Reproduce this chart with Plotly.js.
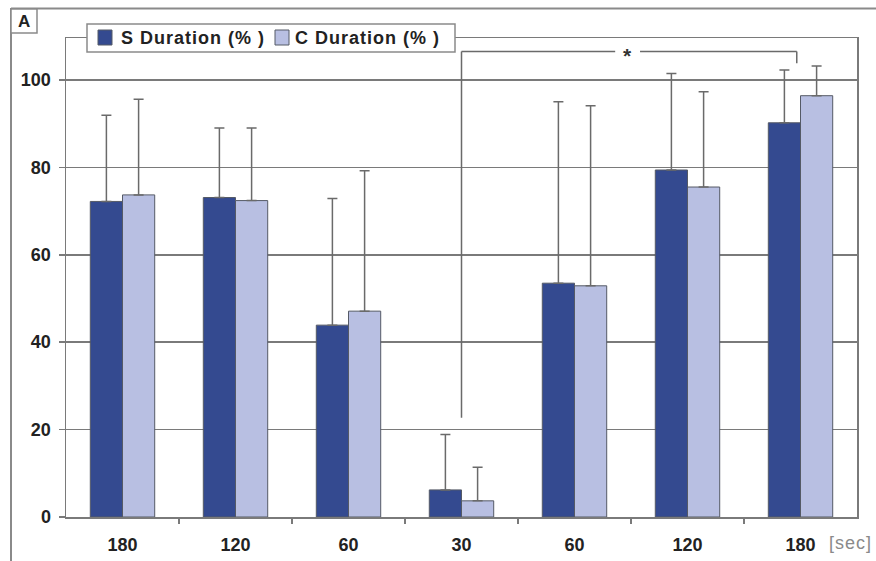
<!DOCTYPE html>
<html>
<head>
<meta charset="utf-8">
<script src="https://cdn.plot.ly/plotly-3.0.1.min.js"></script>
<style>
  html, body { margin: 0; padding: 0; background: #fff; }
  #chart { width: 876px; height: 561px; }
</style>
</head>
<body>
<div id="chart"></div>
<script>
// Time points (seconds) along the protocol, in order of presentation
const timeLabels = ['180', '120', '60', '30', '60', '120', '180'];

// Mean duration (%) per time point
const sDuration = [72.2, 73.1, 43.9, 6.2, 53.5, 79.4, 90.2];
const cDuration = [73.7, 72.4, 47.1, 3.7, 52.9, 75.5, 96.4];

// Standard deviation (upper whisker only)
const sSD = [19.7, 15.9, 29.0, 12.7, 41.5, 22.1, 12.1];
const cSD = [21.9, 16.6, 32.1, 7.7, 41.2, 21.8, 6.8];

const seriesNames = ['S Duration (% )', 'C Duration (% )'];

const DARK = '#344a90';
const LIGHT = '#b8bfe2';
const EDGE = '#555a66';
const GRID = '#7a7a7a';
const FONT = 'Liberation Sans, Arial, sans-serif';

const xPos = timeLabels.map((_, i) => i);

function barTrace(name, y, sd, color) {
  return {
    type: 'bar',
    name: name,
    x: xPos,
    y: y,
    marker: { color: color, line: { color: EDGE, width: 1 } },
    error_y: {
      type: 'data',
      symmetric: false,
      array: sd,
      arrayminus: sd.map(() => 0),
      color: '#6a6a6a',
      thickness: 1.5,
      width: 5
    },
    hoverinfo: 'none'
  };
}

const data = [
  barTrace(seriesNames[0], sDuration, sSD, DARK),
  barTrace(seriesNames[1], cDuration, cSD, LIGHT)
];

// Geometry helpers for the manual legend / frame (paper coordinates)
const L = 66, R = 19, T = 38, B = 44, W = 876, H = 561;
const pw = W - L - R, ph = H - T - B;
const px = x => (x - L) / pw;
const py = y => (H - B - y) / ph;

const wide = s => '<span style="letter-spacing:1px"><b>' + s + '</b></span>';

const shapes = [
  // outer panel frame (top and left)
  { type: 'line', xref: 'paper', yref: 'paper', x0: px(11), x1: px(880), y0: py(8.5), y1: py(8.5),
    line: { color: '#8a8a8a', width: 2 } },
  { type: 'line', xref: 'paper', yref: 'paper', x0: px(11), x1: px(11), y0: py(8), y1: py(565),
    line: { color: '#8a8a8a', width: 2 } },
  // panel letter box
  { type: 'rect', xref: 'paper', yref: 'paper', x0: px(11), x1: px(37), y0: py(9), y1: py(33),
    line: { color: '#8a8a8a', width: 1.5 }, fillcolor: '#fff' },
  // legend box
  { type: 'rect', xref: 'paper', yref: 'paper', x0: px(87), x1: px(455), y0: py(24), y1: py(52),
    line: { color: '#8a8a8a', width: 1.5 }, fillcolor: '#fff', layer: 'above' },
  { type: 'rect', xref: 'paper', yref: 'paper', x0: px(98), x1: px(112), y0: py(30), y1: py(45),
    line: { color: EDGE, width: 1 }, fillcolor: DARK, layer: 'above' },
  { type: 'rect', xref: 'paper', yref: 'paper', x0: px(275), x1: px(289), y0: py(30), y1: py(45),
    line: { color: EDGE, width: 1 }, fillcolor: LIGHT, layer: 'above' },
  // significance bracket between the 30 s and final 180 s groups
  { type: 'line', xref: 'x', yref: 'y', x0: 3, x1: 3, y0: 22.7, y1: 106.5,
    line: { color: '#6a6a6a', width: 1.5 } },
  { type: 'line', xref: 'x', yref: 'y', x0: 3, x1: 4.36, y0: 106.5, y1: 106.5,
    line: { color: '#6a6a6a', width: 1.5 } },
  { type: 'line', xref: 'x', yref: 'y', x0: 4.58, x1: 5.967, y0: 106.5, y1: 106.5,
    line: { color: '#6a6a6a', width: 1.5 } },
  { type: 'line', xref: 'x', yref: 'y', x0: 5.967, x1: 5.967, y0: 106.5, y1: 103.8,
    line: { color: '#6a6a6a', width: 1.5 } }
];

const annotations = [
  { xref: 'paper', yref: 'paper', x: px(24), y: py(21), text: '<b>A</b>', showarrow: false,
    font: { family: FONT, size: 17, color: '#222' }, xanchor: 'center', yanchor: 'middle' },
  { xref: 'paper', yref: 'paper', x: px(119), y: py(38), text: wide(seriesNames[0]), showarrow: false,
    font: { family: FONT, size: 18, color: '#222' }, xanchor: 'left', yanchor: 'middle' },
  { xref: 'paper', yref: 'paper', x: px(293), y: py(38), text: wide(seriesNames[1]), showarrow: false,
    font: { family: FONT, size: 18, color: '#222' }, xanchor: 'left', yanchor: 'middle' },
  { xref: 'x', yref: 'y', x: 4.47, y: 105.6, text: '<b>*</b>', showarrow: false,
    font: { family: FONT, size: 21, color: '#333' }, xanchor: 'center', yanchor: 'middle' },
  { xref: 'paper', yref: 'paper', x: px(827), y: py(543), text: '<span style="letter-spacing:1px">[sec]</span>', showarrow: false,
    font: { family: FONT, size: 18, color: '#8a8a8a' }, xanchor: 'left', yanchor: 'middle' }
];

const layout = {
  width: W, height: H,
  margin: { l: L, r: R, t: T, b: B, pad: 0 },
  paper_bgcolor: '#fff',
  plot_bgcolor: '#fff',
  showlegend: false,
  barmode: 'group',
  bargap: 0.43,
  bargroupgap: 0,
  font: { family: FONT, color: '#222' },
  xaxis: {
    range: [-0.5, 6.5],
    tickmode: 'array',
    tickvals: xPos,
    ticktext: timeLabels.map(t => '<b>' + t + '</b>'),
    ticks: '',
    ticklabelstandoff: 11,
    tickfont: { family: FONT, size: 18, color: '#222' },
    showgrid: false,
    zeroline: false,
    showline: true,
    linecolor: GRID,
    linewidth: 1.5,
    mirror: true,
    minor: {
      tickmode: 'array',
      tickvals: [0.5, 1.5, 2.5, 3.5, 4.5, 5.5],
      ticks: 'outside',
      ticklen: 5,
      tickcolor: GRID,
      tickwidth: 1.5,
      showgrid: false
    },
    fixedrange: true
  },
  yaxis: {
    range: [0, 109.6],
    tickmode: 'array',
    tickvals: [0, 20, 40, 60, 80, 100],
    ticktext: ['0', '20', '40', '60', '80', '100'].map(t => '<b>' + t + '</b>'),
    ticks: 'outside',
    ticklen: 6,
    tickcolor: GRID,
    tickwidth: 1.5,
    ticklabelstandoff: 4,
    tickfont: { family: FONT, size: 18, color: '#222' },
    showgrid: true,
    gridcolor: GRID,
    gridwidth: 1.5,
    zeroline: false,
    showline: true,
    linecolor: GRID,
    linewidth: 1.5,
    mirror: true,
    fixedrange: true
  },
  shapes: shapes,
  annotations: annotations
};

Plotly.newPlot('chart', data, layout, { displayModeBar: false, staticPlot: true });
</script>
</body>
</html>
